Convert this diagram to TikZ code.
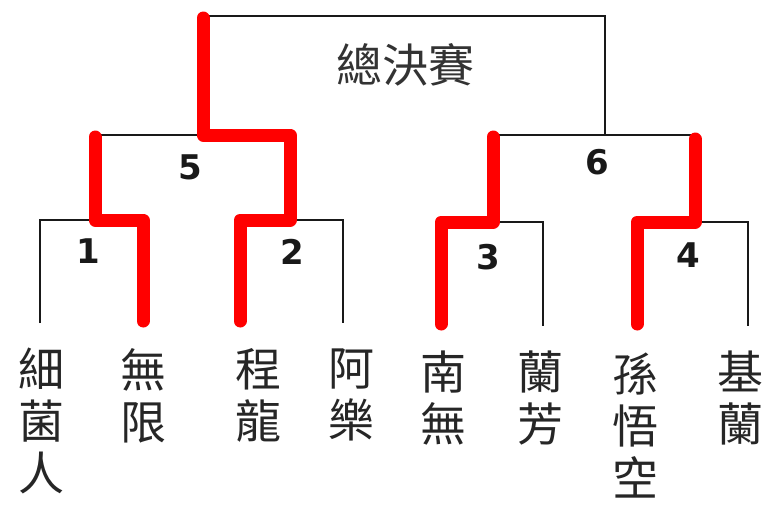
\documentclass[tikz,border=0pt]{standalone}
\usepackage{fontspec}
\newfontfamily\cjk{Noto Sans CJK TC}
\newfontfamily\digitfont{DejaVu Sans}
\begin{document}
\begin{tikzpicture}[x=1pt,y=-1pt,
  blk/.style={line width=2.8pt, black!90},
  win/.style={line width=13pt, red, line cap=round, line join=round},
  player/.style={font=\cjk\fontsize{46}{52}\selectfont, align=center, anchor=north, inner sep=0pt, text=black!85},
  num/.style={font=\digitfont\bfseries\fontsize{34}{34}\selectfont, inner sep=0pt, text=black!90},
  title/.style={font=\cjk\fontsize{46}{52}\selectfont, inner sep=0pt, text=black!80}]
\useasboundingbox (0,0) rectangle (765,506);
% leg ends
\coordinate (p1) at (40,323);
\coordinate (p2) at (143,321);
\coordinate (p3) at (240,321);
\coordinate (p4) at (343,323);
\coordinate (p5) at (441,324);
\coordinate (p6) at (543,326);
\coordinate (p7) at (637,324);
\coordinate (p8) at (748,326);
% junctions
\coordinate (j1) at (95,220);
\coordinate (j2) at (290,220);
\coordinate (j3) at (493,222);
\coordinate (j4) at (695,222);
\coordinate (j5) at (203,135);
\coordinate (j6) at (605,135);
\coordinate (c5l) at (95,137);
\coordinate (c5r) at (290,135);
\coordinate (c6l) at (493,137);
\coordinate (c6r) at (695,139);
\coordinate (tl) at (203,18);
\coordinate (top) at (405,16);
% black bracket
\draw[blk] (p1) |- (j1) -| (p2);
\draw[blk] (p3) |- (j2) -| (p4);
\draw[blk] (p5) |- (j3) -| (p6);
\draw[blk] (p7) |- (j4) -| (p8);
\draw[blk] (j1) |- (j5) -| (j2);
\draw[blk] (j3) |- (j6) -| (j4);
\draw[blk] (j5) |- (top) -| (j6);
% winners
\draw[win] (p2) |- (j1) -- (c5l);
\draw[win] (p3) |- (j2) -- (c5r) -- (j5) -- (tl);
\draw[win] (p5) |- (j3) -- (c6l);
\draw[win] (p7) |- (j4) -- (c6r);
% labels
\node[title] (final) at (405,65) {總決賽};
\node[num] (n1) at (88,251) {1};
\node[num] (n2) at (292,252) {2};
\node[num] (n3) at (488,257) {3};
\node[num] (n4) at (688,255) {4};
\node[num] (n5) at (190,167) {5};
\node[num] (n6) at (597,162) {6};
% players
\node[player] (a1) at (41,348) {細\\菌\\人};
\node[player] (a2) at (143,348) {無\\限};
\node[player] (a3) at (258,348) {程\\龍};
\node[player] (a4) at (351,348) {阿\\樂};
\node[player] (a5) at (443,351) {南\\無};
\node[player] (a6) at (540,351) {蘭\\芳};
\node[player] (a7) at (635,353) {孫\\悟\\空};
\node[player] (a8) at (740,351) {基\\蘭};
\end{tikzpicture}
\end{document}
